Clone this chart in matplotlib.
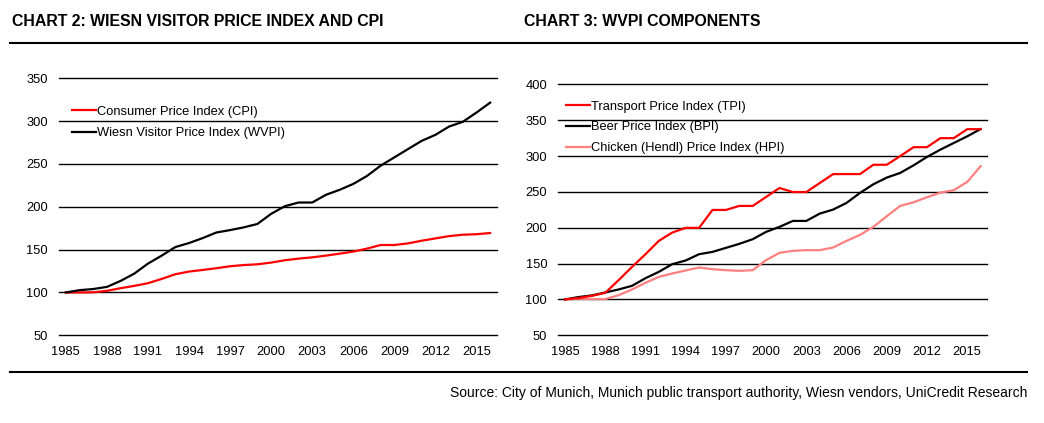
import matplotlib
matplotlib.use("Agg")
import matplotlib.pyplot as plt
from matplotlib.lines import Line2D

plt.rcParams['font.family'] = ['Liberation Sans', 'DejaVu Sans']

years = list(range(1985, 2017))

cpi = [100, 100, 100.2, 101.9, 105, 107.7, 110.8, 115.8, 121.3, 124.4, 126.3, 128.3,
       130.6, 132, 132.9, 134.9, 137.6, 139.5, 141, 143, 145.3, 147.7, 151.2, 155.4,
       155.4, 157.3, 160.4, 163.1, 165.8, 167.4, 168, 169.4]
wvpi = [100, 102.7, 104, 106.5, 113.5, 122, 133.7, 143, 153, 157.7, 163.5, 170,
        172.8, 176, 180, 191.8, 200.7, 205, 205, 214, 219.8, 226.7, 236, 248,
        257.7, 267.4, 277, 284, 293.7, 299.2, 310, 321.6]

tpi = [100, 102, 105, 109.2, 126.9, 145.4, 163, 181.7, 193.3, 199.8, 199.8, 224.8,
       224.8, 230.4, 230.4, 242.9, 255.4, 249.8, 249.8, 262.3, 274.8, 274.8, 274.8, 287.8,
       287.8, 299.8, 312.3, 312.3, 324.9, 324.9, 337.4, 337.4]
bpi = [100, 103.3, 105.6, 109.7, 113.9, 119, 129.6, 138.5, 149.2, 154.3, 163.1, 166.3,
       171.9, 177.5, 184, 194.2, 201.2, 209.5, 209.5, 219.7, 225.3, 234.6, 248.5, 260.6,
       269.9, 276.4, 287, 298.7, 308.9, 318.2, 327.4, 337.6]
hpi = [100, 101, 100.5, 100.5, 106, 113.9, 123.2, 131.5, 136.2, 140.4, 144.5, 142.2,
       140.8, 139.9, 140.8, 154.8, 165, 167.8, 168.7, 168.7, 172.4, 181.7, 190, 201.2,
       216, 230.4, 235.5, 242.5, 249, 252.3, 263.9, 285.7]

xticks = list(range(1985, 2016, 3))
left_yticks = [50, 100, 150, 200, 250, 300, 350]
right_yticks = [50, 100, 150, 200, 250, 300, 350, 400]

title_left = "CHART 2: WIESN VISITOR PRICE INDEX AND CPI"
title_right = "CHART 3: WVPI COMPONENTS"
source = "Source: City of Munich, Munich public transport authority, Wiesn vendors, UniCredit Research"

W, H = 1044, 423
fig = plt.figure(figsize=(W / 100, H / 100), dpi=100)
fs = 9.3


def style(ax, yticks):
    for s in ax.spines.values():
        s.set_visible(False)
    ax.set_yticks(yticks)
    ax.set_ylim(yticks[0], yticks[-1])
    ax.set_xticks(xticks)
    ax.set_xlim(1984.5, 2016.5)
    ax.tick_params(length=0, labelsize=fs, colors='black')
    ax.tick_params(axis='y', pad=8)
    ax.tick_params(axis='x', pad=8)
    ax.grid(axis='y', color='black', linewidth=1.0)
    for gl in ax.get_ygridlines():
        gl.set_clip_on(False)
    ax.set_axisbelow(True)


ax1 = fig.add_axes([59 / W, 1 - 335.3 / H, 438 / W, 257 / H])
style(ax1, left_yticks)
ax1.plot(years, cpi, color='#ff0000', lw=1.6, label='Consumer Price Index (CPI)')
ax1.plot(years, wvpi, color='black', lw=1.6, label='Wiesn Visitor Price Index (WVPI)')
ax1.legend(loc='upper left', bbox_to_anchor=(0.03, 0.893), frameon=False, fontsize=fs,
           borderpad=0, borderaxespad=0, handlelength=1.85, handletextpad=0.1,
           labelspacing=0.72)

ax2 = fig.add_axes([558.3 / W, 1 - 335.3 / H, 429 / W, 251 / H])
style(ax2, right_yticks)
ax2.plot(years, hpi, color='#ff7f7f', lw=1.6, label='Chicken (Hendl) Price Index (HPI)')
ax2.plot(years, bpi, color='black', lw=1.6, label='Beer Price Index (BPI)')
ax2.plot(years, tpi, color='#ff0000', lw=1.6, label='Transport Price Index (TPI)')
h, l = ax2.get_legend_handles_labels()
ax2.legend(h[::-1], l[::-1], loc='upper left', bbox_to_anchor=(0.018, 0.935), frameon=False,
           fontsize=fs, borderpad=0, borderaxespad=0, handlelength=1.85, handletextpad=0.1,
           labelspacing=0.68)

fig.text(12 / W, 1 - 22 / H, title_left, fontsize=11.4, fontweight='bold', va='center', ha='left')
fig.text(524 / W, 1 - 22 / H, title_right, fontsize=11.4, fontweight='bold', va='center', ha='left')
fig.add_artist(Line2D([10 / W, 1027 / W], [1 - 43.5 / H, 1 - 43.5 / H], color='black', lw=1.5))
fig.add_artist(Line2D([10 / W, 1027 / W], [1 - 371.5 / H, 1 - 371.5 / H], color='black', lw=1.5))
fig.text(1027 / W, 1 - 393 / H, source, fontsize=10.0, ha='right', va='center')

fig.savefig('out.png', dpi=100)
